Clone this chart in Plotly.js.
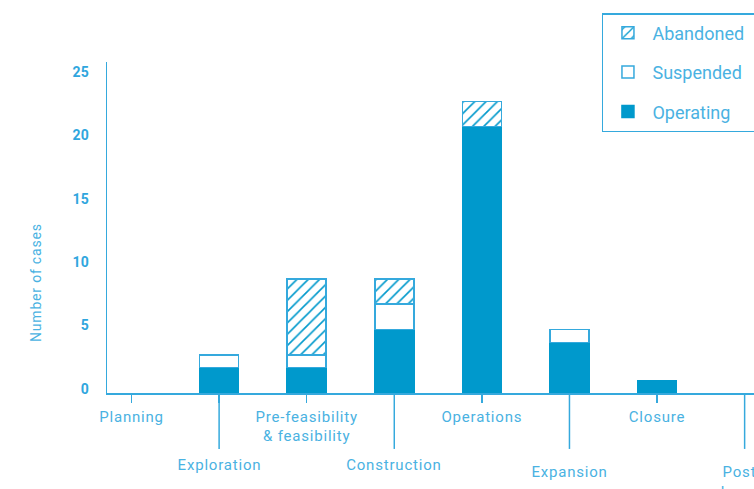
<!DOCTYPE html>
<html>
<head>
<meta charset="utf-8">
<script src="https://cdn.plot.ly/plotly-3.0.1.min.js"></script>
<style>
html,body{margin:0;padding:0;overflow:hidden;background:#fff;}
#chart{width:754px;height:489px;}
#chart .xtick text, #chart .annotation-text{letter-spacing:0.8px;}
</style>
</head>
<body>
<div id="chart"></div>
<script>
// ---- data ----
const categories = ['Planning','Exploration','Pre-feasibility & feasibility','Construction','Operations','Expansion','Closure','Post closure'];
const operating = [0, 2, 2, 5, 21, 4, 1, 0];
const suspended = [0, 1, 1, 2, 0, 1, 0, 0];
const abandoned = [0, 0, 6, 2, 2, 0, 0, 0];
const seriesNames = ['Operating', 'Suspended', 'Abandoned'];
const upperLabels = ['Planning', '', 'Pre-feasibility<br>& feasibility', '', 'Operations', '', 'Closure', ''];
const lowerLabels = ['', 'Exploration', '', 'Construction', '', 'Expansion', '', 'Post<br>closure'];
const lowerRow = [0, 1, 0, 1, 0, 2, 0, 2];
const yTicks = [0, 5, 10, 15, 20, 25];

// ---- styles ----
const BAR = '#0099CC';
const LINE = '#35A9DD';
const TEXT = '#4AB2E2';
const FONT = 'Roboto, "Noto Sans", sans-serif';
const PAD = '\u00a0\u00a0\u00a0'; // widens the legend box past the page edge, as in the reference

const nz = a => a.map(v => (v === 0 ? null : v));

const common = {type: 'bar', x: categories, hoverinfo: 'skip'};
const traces = [
  Object.assign({}, common, {
    name: seriesNames[0], y: nz(operating), legendgroup: 'op', legendrank: 3,
    marker: {color: BAR, line: {color: BAR, width: 1.5}}
  }),
  Object.assign({}, common, {
    name: seriesNames[1], y: nz(suspended), legendgroup: 'su', legendrank: 2,
    marker: {color: '#ffffff', line: {color: LINE, width: 1.5}}
  }),
  Object.assign({}, common, {
    name: seriesNames[2] + PAD, y: nz(abandoned), legendgroup: 'ab', legendrank: 1,
    marker: {color: '#ffffff', line: {color: LINE, width: 1.5},
      pattern: {shape: '/', fgcolor: BAR, bgcolor: '#ffffff', size: 8, solidity: 0.2}}
  })
];

const shapes = [];
const annotations = [];
categories.forEach((c, i) => {
  if (lowerRow[i]) {
    shapes.push({type: 'line', xref: 'x', yref: 'paper', x0: c, x1: c, y0: 0, y1: -0.169,
      line: {color: LINE, width: 1.5}, layer: 'above'});
    annotations.push({xref: 'x', yref: 'paper', x: c, y: lowerRow[i] === 1 ? -0.185 : -0.206,
      xshift: i === categories.length - 1 ? -5 : 0,
      yanchor: 'top', xanchor: 'center', showarrow: false, text: lowerLabels[i],
      font: {family: FONT, size: 15, color: TEXT}});
  }
});
annotations.push({xref: 'paper', yref: 'paper', x: -0.11, y: 0.335, xanchor: 'center', yanchor: 'middle',
  textangle: -90, showarrow: false, text: 'Number of cases', font: {family: FONT, size: 14, color: TEXT}});

const layout = {
  width: 754, height: 489,
  margin: {l: 107, r: 0, t: 62, b: 96, autoexpand: false},
  paper_bgcolor: '#fff', plot_bgcolor: '#fff',
  barmode: 'stack', bargap: 0.555,
  font: {family: FONT, color: TEXT},
  showlegend: true,
  legend: {x: 0.765, y: 1.148, xanchor: 'left', yanchor: 'top', traceorder: 'grouped',
    tracegroupgap: 13, bgcolor: '#fff', bordercolor: LINE, borderwidth: 1.5,
    font: {family: FONT, size: 18, color: TEXT}, itemwidth: 39},
  xaxis: {type: 'category', range: [-0.28, 7.107], showline: true, linecolor: LINE, linewidth: 1.5,
    ticks: 'outside', ticklen: 8, tickwidth: 1.5, tickcolor: LINE, showgrid: false, zeroline: false,
    tickmode: 'array', tickvals: categories, ticktext: upperLabels, ticklabelstandoff: 1,
    tickfont: {family: FONT, size: 15, color: TEXT}, fixedrange: true},
  yaxis: {range: [0, 26.1], showline: true, linecolor: LINE, linewidth: 1.5, ticks: '', showgrid: false,
    zeroline: false, tickmode: 'array', tickvals: yTicks, ticklabelstandoff: 14, ticklabelshift: -4,
    tickfont: {family: FONT, size: 14, color: '#2FA6DE', weight: 'bold'}, fixedrange: true},
  shapes: shapes,
  annotations: annotations
};

Plotly.newPlot('chart', traces, layout, {staticPlot: true, displayModeBar: false});
</script>
</body>
</html>
